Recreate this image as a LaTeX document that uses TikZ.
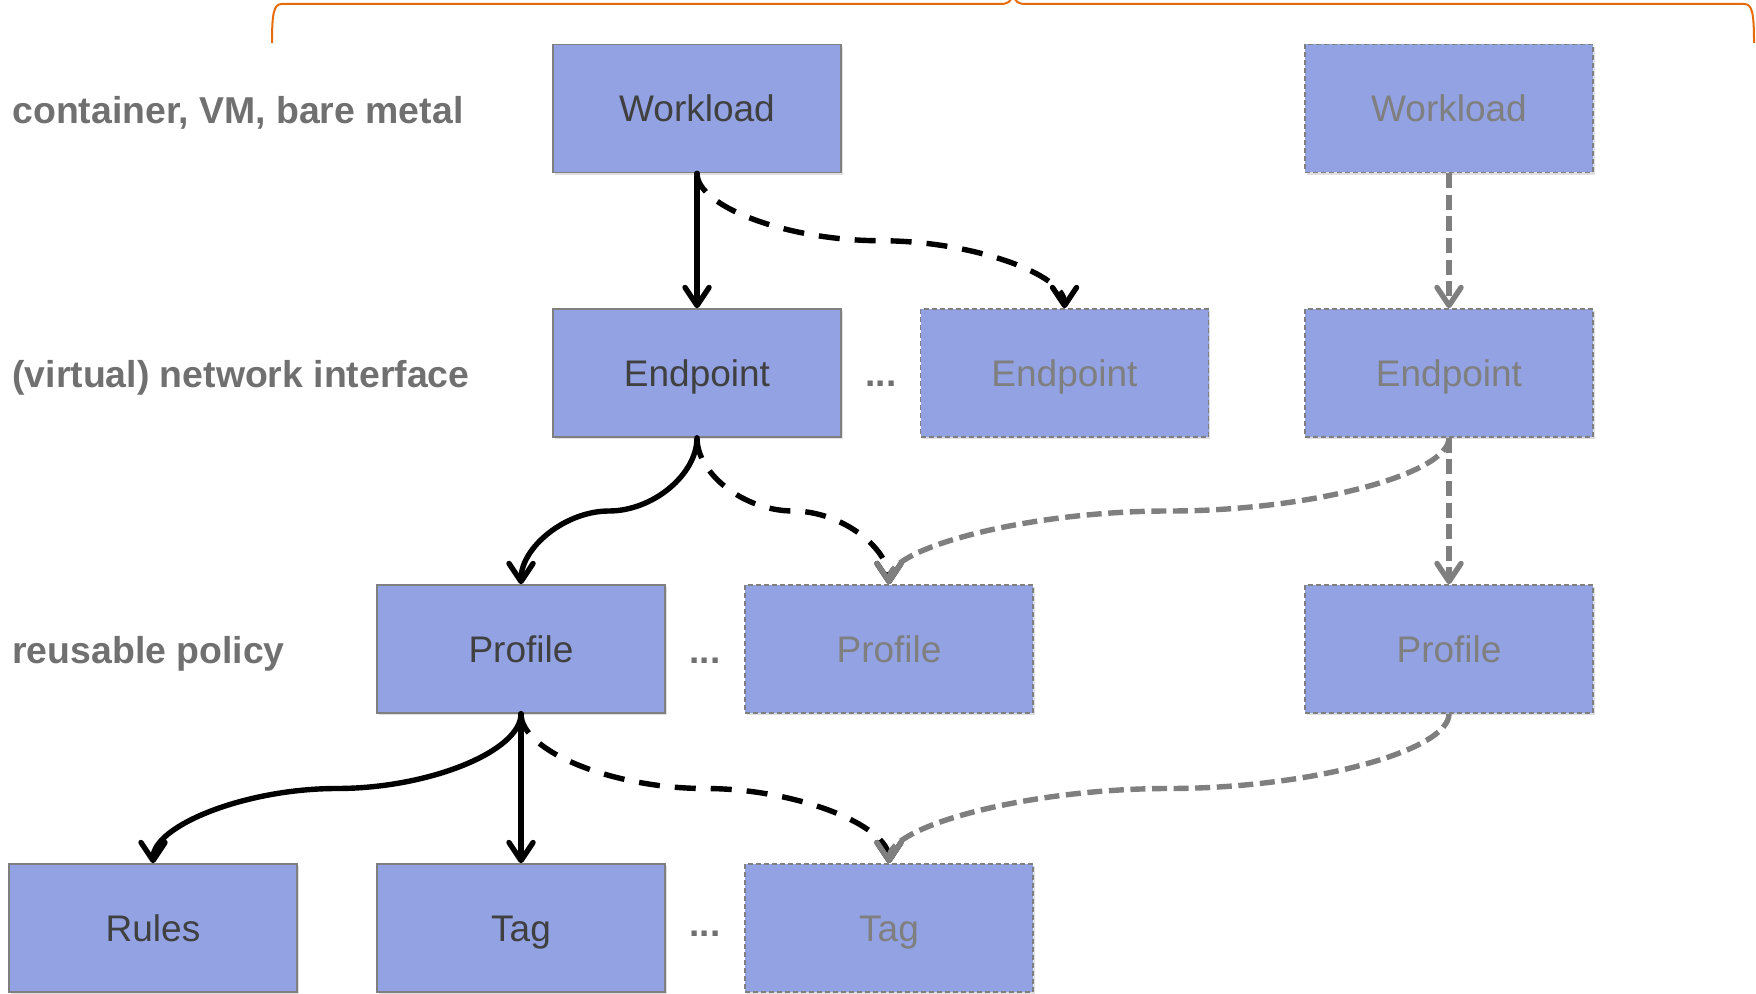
\documentclass[tikz,border=0pt]{standalone}
\usepackage{fontspec}
\setmainfont{Liberation Sans}
\usetikzlibrary{arrows.meta,calc,shadows}

\definecolor{boxfill}{HTML}{92A2E3}
\definecolor{boxline}{HTML}{7F7F7F}
\definecolor{boxtext}{HTML}{404040}
\definecolor{ghosttext}{HTML}{7F7F7F}
\definecolor{labeltext}{HTML}{707070}
\definecolor{ghostgray}{HTML}{7F7F7F}
\definecolor{bracecol}{HTML}{E46C0A}

\tikzset{
  entity/.style={rectangle, fill=boxfill, draw=boxline, line width=0.8pt,
    minimum width=144pt, minimum height=64pt, inner sep=0pt,
    text height=13.2pt, text depth=0pt,
    font=\fontsize{18.5}{22}\selectfont, text=boxtext,
    drop shadow={shadow xshift=0.8pt, shadow yshift=-1.2pt, opacity=0.25}},
  ghost/.style={entity, dash pattern=on 2.5pt off 1.5pt, text=ghosttext},
  rowlabel/.style={anchor=base west, inner sep=0pt,
    font=\bfseries\fontsize{18.7}{22}\selectfont, text=labeltext},
  more/.style={anchor=base, inner sep=0pt,
    font=\bfseries\fontsize{18.5}{22}\selectfont, text=labeltext},
  link/.style={line width=2.7pt, -{Straight Barb[length=9pt,width=12pt,round]}},
  solidlink/.style={link, draw=black, line cap=round},
  optlink/.style={link, draw=black, dash pattern=on 10.5pt off 7.5pt},
  ghostlink/.style={link, draw=ghostgray, dash pattern=on 7.5pt off 3.3pt},
  % vertical start, horizontal middle, vertical end
  scurve/.style={to path={let \p1=(\tikztostart), \p2=(\tikztotarget) in
    .. controls (\x1,{\y1+(\y2-\y1)/4}) and ({\x1+(\x2-\x1)/4},{(\y1+\y2)/2})
    .. ({(\x1+\x2)/2},{(\y1+\y2)/2})
    .. controls ({\x2-(\x2-\x1)/4},{(\y1+\y2)/2}) and (\x2,{\y2-(\y2-\y1)/4})
    .. (\tikztotarget)}}
}

\begin{document}
\begin{tikzpicture}[x=0.5pt,y=-0.5pt]
\useasboundingbox (0,0) rectangle (1756,994);

% brace over both columns
\draw[bracecol, line width=1pt]
  (272,43) .. controls (272,12) and (274,4) .. (282,4) -- (1000,4)
  .. controls (1008,4) and (1011,2) .. (1013,-6)
  .. controls (1015,2) and (1018,4) .. (1026,4) -- (1744,4)
  .. controls (1752,4) and (1754,12) .. (1754,43);

% row labels
\node[rowlabel] (lw) at (12,124) {container, VM, bare metal};
\node[rowlabel] (le) at (12,388) {(virtual) network interface};
\node[rowlabel] (lp) at (12,663) {reusable policy};

% objects
\node[entity] (wl) at (697,108.5) {Workload};
\node[ghost]  (wr) at (1449,108.5) {Workload};

\node[entity] (e1) at (697,373) {Endpoint};
\node[ghost]  (e2) at (1064.5,373) {Endpoint};
\node[ghost]  (er) at (1449,373) {Endpoint};

\node[entity] (p1) at (521,649) {Profile};
\node[ghost]  (p2) at (889,649) {Profile};
\node[ghost]  (pr) at (1449,649) {Profile};

\node[entity] (rules) at (153,928) {Rules};
\node[entity] (tag)   at (521,928) {Tag};
\node[ghost]  (t2)    at (889,928) {Tag};

% ellipses
\node[more] (m1) at (881,387) {...};
\node[more] (m2) at (705,663) {...};
\node[more] (m3) at (705,936) {...};

% connectors
\draw[solidlink] (wl.south) -- (e1.north);
\draw[optlink]   (wl.south) to[scurve] (e2.north);
\draw[ghostlink] (wr.south) -- (er.north);

\draw[solidlink] (e1.south) to[scurve] (p1.north);
\draw[optlink]   (e1.south) to[scurve] (p2.north);
\draw[ghostlink] (er.south) to[scurve] (p2.north);
\draw[ghostlink] (er.south) -- (pr.north);

\draw[solidlink] (p1.south) to[scurve] (rules.north);
\draw[solidlink] (p1.south) -- (tag.north);
\draw[optlink]   (p1.south) to[scurve] (t2.north);
\draw[ghostlink] (pr.south) to[scurve] (t2.north);
\end{tikzpicture}
\end{document}
